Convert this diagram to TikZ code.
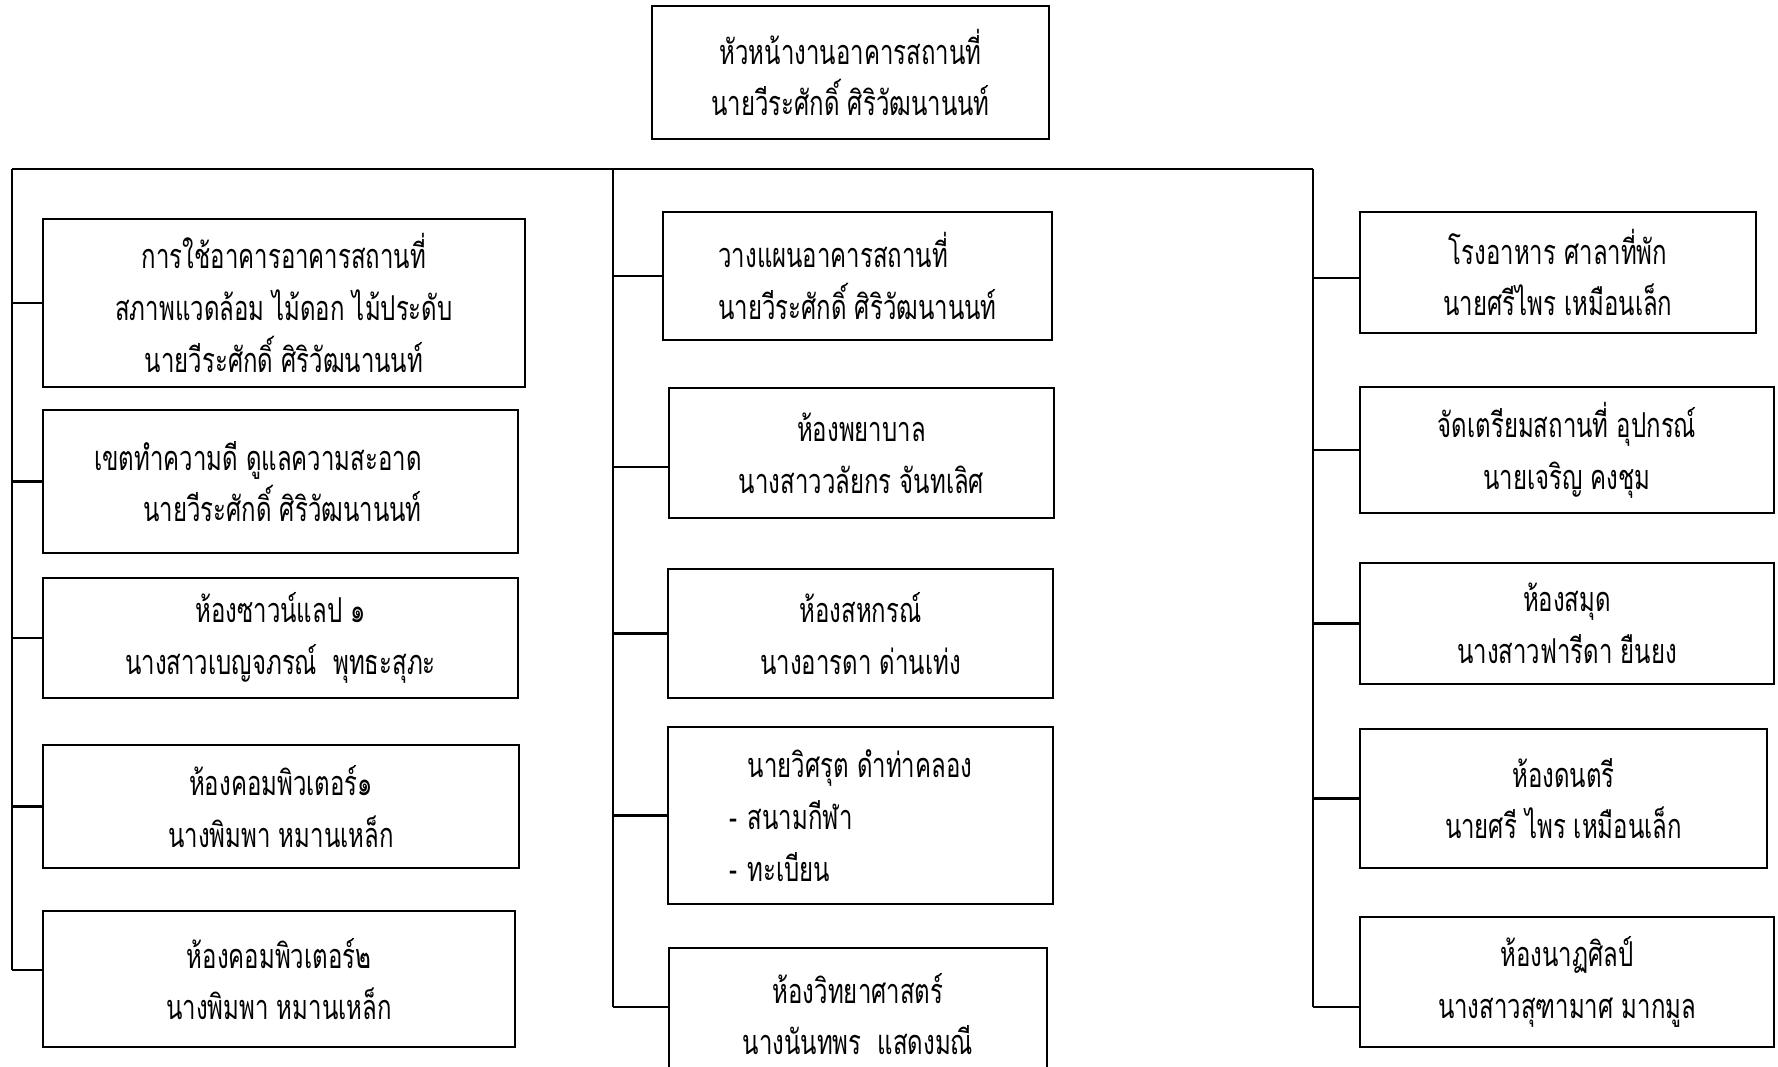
\documentclass[tikz,border=0pt]{standalone}
\usepackage{fontspec}
\newfontfamily\thaifont[Script=Thai,FakeStretch=0.70]{Loma}
\begin{document}
\begin{tikzpicture}[x=0.02cm,y=-0.02cm,
    box/.style 2 args={rectangle,draw,line width=0.9pt,minimum width=#1*0.02cm,minimum height=#2*0.02cm,
      inner sep=0pt,align=center,font=\fontsize{19.5}{29.5}\thaifont},
    link/.style={line width=1.2pt}]
    \useasboundingbox (0,0) rectangle (1778,1066);

        \node at (850.5,72.5) [box={397}{133}] (h100) {หัวหน้างานอาคารสถานที่\\นายวีระศักดิ์ ศิริวัฒนานนท์};

        \node at (284,303) [box={482}{168}] (l110) {การใช้อาคารอาคารสถานที่\\สภาพแวดล้อม ไม้ดอก ไม้ประดับ\\นายวีระศักดิ์ ศิริวัฒนานนท์};
        \node at (280.5,481.5) [box={475}{143},align=right] (l120) {เขตทำความดี ดูแลความสะอาด\hspace*{0.9cm}\\นายวีระศักดิ์ ศิริวัฒนานนท์\hspace*{0.9cm}};
        \node at (280.5,638) [box={475}{120}] (l130) {ห้องซาวน์แลป ๑\\นางสาวเบญจภรณ์\ \ พุทธะสุภะ};
        \node at (281,806.5) [box={476}{123}] (l140) {ห้องคอมพิวเตอร์๑\\นางพิมพา หมานเหล็ก};
        \node at (279,979) [box={472}{136}] (l150) {ห้องคอมพิวเตอร์๒\\นางพิมพา หมานเหล็ก};

        \node at (857.5,276) [box={389}{128},align=left] (m210) {วางแผนอาคารสถานที่\\นายวีระศักดิ์ ศิริวัฒนานนท์};
        \node at (861.5,453) [box={385}{130}] (m220) {ห้องพยาบาล\\นางสาววลัยกร จันทเลิศ};
        \node at (860.5,633.5) [box={385}{129}] (m230) {ห้องสหกรณ์\\นางอารดา ด่านเท่ง};
        \node at (860.5,815.5) [box={385}{177},align=left] (m240) {\hspace*{0.36cm}นายวิศรุต ดำท่าคลอง\hspace*{0.38cm}\\-\hspace{0.2cm}สนามกีฬา\\-\hspace{0.2cm}ทะเบียน};
        \node at (858,1014) [box={378}{132}] (m250) {ห้องวิทยาศาสตร์\\นางนันทพร\ \ แสดงมณี};

        \node at (1558,272.5) [box={396}{121}] (r310) {โรงอาหาร ศาลาที่พัก\\นายศรีไพร เหมือนเล็ก};
        \node at (1567,450) [box={414}{126}] (r320) {จัดเตรียมสถานที่ อุปกรณ์\\นายเจริญ คงชุม};
        \node at (1567,623.5) [box={414}{121}] (r330) {ห้องสมุด\\นางสาวฟารีดา ยืนยง};
        \node at (1563.5,798.5) [box={407}{139}] (r340) {ห้องดนตรี\\นายศรี ไพร เหมือนเล็ก};
        \node at (1567,982) [box={414}{130}] (r350) {ห้องนาฏศิลป์\\นางสาวสุฑามาศ มากมูล};

        \coordinate (lt) at (12,169);
        \coordinate (mt) at (613,169);
        \coordinate (rt) at (1313,169);
        \coordinate (l150w) at ([yshift=0.18cm]l150.west);
        \coordinate (m220w) at ([yshift=-0.28cm]m220.west);
        \coordinate (m250w) at ([yshift=0.14cm]m250.west);
        \coordinate (r310w) at ([yshift=-0.11cm]r310.west);
        \coordinate (r350w) at ([yshift=-0.5cm]r350.west);

        \draw[link] (lt)--(rt);
        \draw[link] (lt)--(lt |- l150w);
        \draw[link] (mt)--(mt |- m250w);
        \draw[link] (rt)--(rt |- r350w);

        \draw[link] (lt |- l110.west)--(l110.west);
        \draw[link] (lt |- l120.west)--(l120.west);
        \draw[link] (lt |- l130.west)--(l130.west);
        \draw[link] (lt |- l140.west)--(l140.west);
        \draw[link] (lt |- l150w)--(l150w);

        \draw[link] (mt |- m210.west)--(m210.west);
        \draw[link] (mt |- m220w)--(m220w);
        \draw[link] (mt |- m230.west)--(m230.west);
        \draw[link] (mt |- m240.west)--(m240.west);
        \draw[link] (mt |- m250w)--(m250w);

        \draw[link] (rt |- r310w)--(r310w);
        \draw[link] (rt |- r320.west)--(r320.west);
        \draw[link] (rt |- r330.west)--(r330.west);
        \draw[link] (rt |- r340.west)--(r340.west);
        \draw[link] (rt |- r350w)--(r350w);

    \end{tikzpicture}
\end{document}
